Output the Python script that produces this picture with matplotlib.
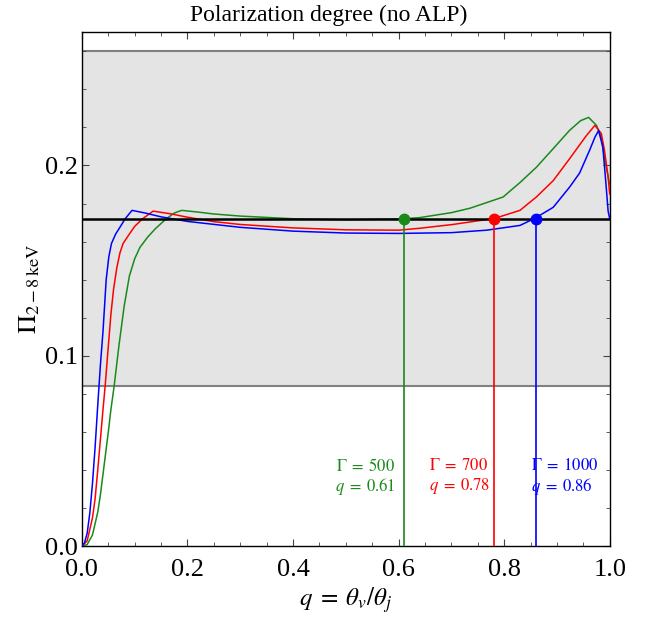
import matplotlib
matplotlib.use("Agg")
import matplotlib.pyplot as plt
from matplotlib.ticker import MultipleLocator

plt.rcParams['font.family'] = ['Liberation Serif', 'DejaVu Serif']
plt.rcParams['mathtext.fontset'] = 'stix'

# observed polarization and its band
pi_obs = 0.172
band_lo, band_hi = 0.084, 0.26

# curves: q = theta_v / theta_j, Pi_{2-8 keV}
q_blue = [0.0, 0.005, 0.01, 0.015, 0.02, 0.025, 0.03, 0.035, 0.04, 0.046, 0.051, 0.056,
          0.064, 0.072, 0.082, 0.095, 0.12, 0.15, 0.2, 0.3, 0.4, 0.5, 0.6, 0.7, 0.767,
          0.83, 0.858, 0.893, 0.924, 0.943, 0.962, 0.972, 0.979, 0.987, 0.993, 0.997, 1.0]
p_blue = [0.0, 0.002, 0.007, 0.0175, 0.033, 0.052, 0.074, 0.095, 0.113, 0.14, 0.152, 0.159,
          0.164, 0.1675, 0.172, 0.1764, 0.175, 0.173, 0.1706, 0.1675, 0.1655, 0.1645, 0.1643,
          0.1647, 0.166, 0.1685, 0.1722, 0.178, 0.1886, 0.196, 0.208, 0.2148, 0.2183, 0.2096,
          0.19, 0.176, 0.172]

q_red = [0.0, 0.01, 0.02, 0.025, 0.03, 0.035, 0.04, 0.044, 0.05, 0.055, 0.06, 0.066, 0.072,
         0.078, 0.09, 0.1, 0.115, 0.135, 0.17, 0.2, 0.25, 0.3, 0.4, 0.5, 0.6, 0.64, 0.703,
         0.782, 0.83, 0.861, 0.893, 0.924, 0.956, 0.972, 0.984, 0.99, 0.997, 1.0]
p_red = [0.0, 0.003, 0.015, 0.025, 0.04, 0.056, 0.072, 0.084, 0.105, 0.122, 0.135, 0.146,
         0.154, 0.159, 0.164, 0.168, 0.172, 0.176, 0.1745, 0.1728, 0.1705, 0.169, 0.1672,
         0.1662, 0.166, 0.167, 0.169, 0.1722, 0.1764, 0.1834, 0.192, 0.2035, 0.2157, 0.221,
         0.2168, 0.208, 0.194, 0.185]

q_green = [0.0, 0.01, 0.02, 0.03, 0.035, 0.04, 0.045, 0.05, 0.055, 0.061, 0.07, 0.08, 0.09,
           0.1, 0.11, 0.125, 0.14, 0.16, 0.175, 0.189, 0.22, 0.25, 0.3, 0.4, 0.5, 0.61, 0.64,
           0.7, 0.735, 0.798, 0.83, 0.861, 0.893, 0.924, 0.945, 0.96, 0.975, 0.984, 0.99,
           0.997, 1.0]
p_green = [0.0, 0.001, 0.006, 0.018, 0.027, 0.038, 0.049, 0.06, 0.072, 0.084, 0.105, 0.126,
           0.142, 0.151, 0.157, 0.1625, 0.167, 0.172, 0.175, 0.1764, 0.1755, 0.1745, 0.1734,
           0.172, 0.1714, 0.172, 0.1726, 0.1752, 0.1775, 0.1834, 0.191, 0.199, 0.2088, 0.2184,
           0.2235, 0.2252, 0.221, 0.2148, 0.204, 0.194, 0.19]

green = '#198a19'
series = [
    (q_green, p_green, green, 500, 0.61),
    (q_red, p_red, 'red', 700, 0.78),
    (q_blue, p_blue, 'blue', 1000, 0.86),
]
# label anchor (x, ha) for each text block
label_pos = [(0.594, 'right'), (0.658, 'left'), (0.85, 'left')]

fig = plt.figure(figsize=(6.5, 6.17), dpi=100)
ax = fig.add_axes([0.126, 0.1143, 0.812, 0.8338])

ax.axhspan(band_lo, band_hi, color='#e4e4e4', lw=0, zorder=0)
ax.axhline(band_lo, color='#808080', lw=1.5, zorder=1)
ax.axhline(band_hi, color='#808080', lw=1.5, zorder=1)

for q, p, c, gam, qc in series:
    ax.plot(q, p, color=c, lw=1.1, zorder=3)

ax.axhline(pi_obs, color='black', lw=1.8, zorder=4)

for (q, p, c, gam, qc), (lx, ha) in zip(series, label_pos):
    ax.plot([qc, qc], [0, pi_obs], color=c, lw=1.2, zorder=3)
    ax.plot(qc, pi_obs, 'o', color=c, ms=7.5, zorder=5)
    ax.text(lx, 0.0422, r'$\Gamma\;=\;%d$' % gam, color=c, fontsize=12,
            ha=ha, va='center')
    ax.text(lx, 0.0317, r'$q\;=\;%.2f$' % qc, color=c, fontsize=12,
            ha=ha, va='center')

ax.set_xlim(0, 1)
ax.set_ylim(0, 0.27)
ax.xaxis.set_major_locator(MultipleLocator(0.2))
ax.xaxis.set_minor_locator(MultipleLocator(0.05))
ax.yaxis.set_major_locator(MultipleLocator(0.1))
ax.yaxis.set_minor_locator(MultipleLocator(0.02))
ax.xaxis.set_major_formatter(plt.FuncFormatter(lambda v, p: f"{v:.1f}"))
ax.yaxis.set_major_formatter(plt.FuncFormatter(lambda v, p: f"{v:.1f}"))
ax.tick_params(which='both', direction='in', top=True, right=True, labelsize=19,
               color='#444444')
ax.tick_params(which='major', length=5, width=0.8)
ax.tick_params(which='minor', length=3, width=0.6)
ax.tick_params(axis='x', pad=9)
ax.tick_params(axis='y', pad=3)
for s in ax.spines.values():
    s.set_linewidth(1.0)

ax.set_xlabel(r'$q\;=\;\theta_v/\theta_j$', fontsize=18, labelpad=3)
ax.set_ylabel(r'$\Pi_{2-8\,\mathrm{keV}}$', fontsize=19, labelpad=2)
fig.text(0.505, 0.975, 'Polarization degree (no ALP)', fontsize=17,
         ha='center', va='center')

fig.savefig('out.png', dpi=100)
